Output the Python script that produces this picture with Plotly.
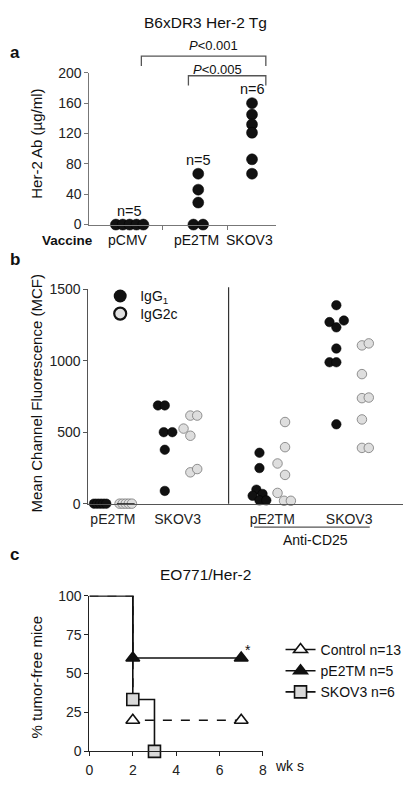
import plotly.graph_objects as go

# The page adds an 8px body margin; the plot is sized so that page == 417x786.
PAGE_W, PAGE_H = 417, 786
OFF = 8
W, H = PAGE_W - 2 * OFF, PAGE_H - 2 * OFF
FONT = "Liberation Sans, Arial, sans-serif"

# ---------------- Panel a data ----------------
a_categories = ["pCMV", "pE2TM", "SKOV3"]
a_values = [
    [0, 0, 0, 0, 0],                 # pCMV
    [67, 46, 29, 0, 0],              # pE2TM
    [160, 145, 132, 121, 86, 67],    # SKOV3
]
a_jitter = [
    [-2, -1, 0, 1, 2],
    [0, 0, 0, -0.7, 0.7],
    [0, 0, 0, 0, 0, 0],
]
a_n_labels = ["n=5", "n=5", "n=6"]
a_yticks = [0, 40, 80, 120, 160, 200]

# ---------------- Panel b data ----------------
b_groups = ["pE2TM", "SKOV3", "pE2TM", "SKOV3"]
b_igg1 = [
    [0, 0, 0, 0, 0],
    [687, 687, 500, 500, 377, 89],
    [356, 249, 98, 55, 68, 23, 23],
    [1388, 1270, 1281, 1233, 1085, 989, 989, 555],
]
b_igg2c = [
    [0, 0, 0, 0, 0],
    [616, 616, 525, 475, 219, 242],
    [571, 395, 281, 201, 75, 20, 20],
    [1107, 1121, 906, 738, 742, 589, 390, 390],
]
b_jit1 = [
    [-0.9, -0.45, 0, 0.45, 0.9],
    [-1, 0, -0.15, 1.1, 0, 0],
    [0, 0, -0.45, -1, 0.45, 0, 1],
    [0, -1, 1.1, 0, 0, -1, 0, 0],
]
b_jit2 = [
    [-0.9, -0.45, 0, 0.45, 0.9],
    [0, 1, -1, 0, 0, 1],
    [0, 0, -1.1, 0, -1.1, -0.15, 0.85],
    [0, 1, 0, 0, 1, 0, 0, 1],
]
b_yticks = [0, 500, 1000, 1500]

# ---------------- Panel c data ----------------
c_series = ["Control n=13", "pE2TM n=5", "SKOV3 n=6"]
c_weeks_control = [0, 2, 7]
c_control = [100, 20, 20]
c_weeks_pe2tm = [0, 2, 7]
c_pe2tm = [100, 60, 60]
c_weeks_skov3 = [0, 2, 3]
c_skov3 = [100, 33.3, 0]
c_xticks = [0, 2, 4, 6, 8]
c_yticks = [0, 25, 50, 75, 100]

# ---------------- layout constants ----------------
a_pos = [5.86, 15.86, 23.7]
a_sep = [10.7, 20.1]
b_pos = [3.58, 13.03, 26.87, 38.11]
b_half = 1.87


def px(x):
    return (x - OFF) / W


def py(y):
    return 1 - (y - OFF) / H


fig = go.Figure()

# Panel a dots
for i, vals in enumerate(a_values):
    fig.add_trace(go.Scatter(
        x=[a_pos[i] + j for j in a_jitter[i]], y=vals,
        mode="markers", xaxis="x", yaxis="y", cliponaxis=False,
        marker=dict(size=11, color="#111111", line=dict(width=0.5, color="#000")),
        showlegend=False, hoverinfo="skip"))

# Panel b dots
x1, y1, x2, y2 = [], [], [], []
for g in range(len(b_groups)):
    x1 += [b_pos[g] - b_half + j for j in b_jit1[g]]
    y1 += b_igg1[g]
    x2 += [b_pos[g] + b_half + j for j in b_jit2[g]]
    y2 += b_igg2c[g]
fig.add_trace(go.Scatter(x=x2, y=y2, mode="markers", xaxis="x2", yaxis="y2",
                         cliponaxis=False, showlegend=False, hoverinfo="skip",
                         marker=dict(size=9.5, color="#dedede", line=dict(width=0.8, color="#777"))))
fig.add_trace(go.Scatter(x=x1, y=y1, mode="markers", xaxis="x2", yaxis="y2",
                         cliponaxis=False, showlegend=False, hoverinfo="skip",
                         marker=dict(size=9.5, color="#111111", line=dict(width=0.5, color="#000"))))
# legend entries for panel b (one legend each for exact placement)
fig.add_trace(go.Scatter(x=[None], y=[None], mode="markers", name="IgG<sub>1</sub>",
                         xaxis="x2", yaxis="y2", legend="legend2",
                         marker=dict(size=13, color="#111111")))
fig.add_trace(go.Scatter(x=[None], y=[None], mode="markers", name="IgG2c",
                         xaxis="x2", yaxis="y2", legend="legend3",
                         marker=dict(size=12, color="#e0e0e0", line=dict(width=2.2, color="#111"))))

# Panel c step lines
c_styles = [
    dict(x=c_weeks_control, y=c_control, dash="dash", symbol="triangle-up", fill="white", size=12),
    dict(x=c_weeks_skov3, y=c_skov3, dash="solid", symbol="square", fill="#d9d9d9", size=12),
    dict(x=c_weeks_pe2tm, y=c_pe2tm, dash="solid", symbol="triangle-up", fill="#111111", size=12),
]
for s in c_styles:
    fig.add_trace(go.Scatter(
        x=s["x"], y=s["y"], mode="lines", line=dict(shape="hv", color="#111", width=1.6, dash=s["dash"]),
        xaxis="x3", yaxis="y3", showlegend=False, hoverinfo="skip"))
for s in c_styles:
    fig.add_trace(go.Scatter(
        x=s["x"][1:], y=s["y"][1:], mode="markers", cliponaxis=False,
        marker=dict(symbol=s["symbol"], size=s["size"], color=s["fill"], line=dict(width=1.6, color="#111")),
        xaxis="x3", yaxis="y3", showlegend=False, hoverinfo="skip"))
leg_styles = [("triangle-up", "white"), ("triangle-up", "#111111"), ("square", "#d9d9d9")]
for name, (sym, fill) in zip(c_series, leg_styles):
    fig.add_trace(go.Scatter(
        x=[None], y=[None], mode="lines+markers", name=name, xaxis="x3", yaxis="y3",
        line=dict(color="#111", width=1.6),
        marker=dict(symbol=sym, size=12, color=fill, line=dict(width=1.6, color="#111"))))

axis_common = dict(showgrid=False, zeroline=False, showline=True, fixedrange=True,
                   tickfont=dict(size=14, color="#222"), ticklen=4, tickwidth=1)

leg_common = dict(xanchor="left", yanchor="top", bgcolor="rgba(0,0,0,0)",
                  font=dict(size=14), tracegroupgap=0)

fig.update_layout(
    width=W, height=H, margin=dict(l=0, r=0, t=0, b=0), autosize=False,
    paper_bgcolor="white", plot_bgcolor="white",
    font=dict(family=FONT, color="#111", size=14),
    xaxis=dict(domain=[px(87), px(277)], range=[0, 190 / 7], tickvals=a_sep, ticks="outside",
               showticklabels=False, linecolor="#777", tickcolor="#777", anchor="y", **axis_common),
    yaxis=dict(domain=[py(221), py(66)], range=[0, 200], tickvals=a_yticks, ticks="outside",
               linecolor="#777", tickcolor="#777", anchor="x", **axis_common),
    xaxis2=dict(domain=[px(86), px(407)], range=[0, 321 / 6.98], tickvals=b_pos, ticktext=b_groups,
                ticks="", linecolor="#555", anchor="y2", ticklabelstandoff=3, **axis_common),
    yaxis2=dict(domain=[py(506), py(287)], range=[0, 1500], tickvals=b_yticks, ticks="outside",
                linecolor="#555", tickcolor="#555", anchor="x2", **axis_common),
    xaxis3=dict(domain=[px(87), px(264)], range=[0, 8], tickvals=c_xticks, ticks="outside",
                linecolor="#222", tickcolor="#222", anchor="y3", ticklabelstandoff=2, **axis_common),
    yaxis3=dict(domain=[py(759), py(600)], range=[0, 100], tickvals=c_yticks, ticks="outside",
                linecolor="#222", tickcolor="#222", anchor="x3", **axis_common),
    legend=dict(x=px(282), y=py(639), **leg_common),
    legend2=dict(x=px(98), y=py(278), **leg_common),
    legend3=dict(x=px(98), y=py(296), **leg_common),
)

ann = []


def note(text, x, y, xref="paper", yref="paper", size=14, **kw):
    d = dict(text=text, x=x, y=y, xref=xref, yref=yref, showarrow=False,
             xanchor="center", yanchor="middle", font=dict(size=size))
    d.update(kw)
    ann.append(d)


# panel letters
for letter, (lx, ly) in zip(["a", "b", "c"], [(11, 45), (11, 257), (11, 558)]):
    note("<b>%s</b>" % letter, px(lx), py(ly), size=17)
# titles
note("B6xDR3 Her-2 Tg", px(205), py(15), size=15.5)
note("EO771/Her-2", px(205), py(578), size=15.5)
# y titles
note("Her-2 Ab (µg/ml)", px(33), py(139), size=15, textangle=-90)
note("Mean Channel Fluorescence (MCF)", px(33), py(394), size=15, textangle=-90)
note("% tumor-free mice", px(33), py(683), size=15, textangle=-90)
# panel a labels
note("<b>Vaccine</b>", px(65), py(237), size=13.5)
for i, cat in enumerate(a_categories):
    note(cat, a_pos[i] - 0.3, py(237), xref="x", size=14)
    note(a_n_labels[i], a_pos[i], max(a_values[i]), xref="x", yref="y", size=14.5, yshift=14)
note("<i>P</i>&lt;0.001", (214 - 87) / 7, py(38), xref="x", size=13)
note("<i>P</i>&lt;0.005", (218 - 87) / 7, py(63), xref="x", size=13)
# panel b labels
note("Anti-CD25", (318 - 86) / 6.98, py(543), xref="x2", size=14)
# panel c labels
note("*", c_weeks_pe2tm[-1], c_pe2tm[-1], xref="x3", yref="y3", size=14, xshift=7, yshift=8)
note("wk s", px(274), py(774), size=14, xanchor="left")
fig.update_layout(annotations=ann)

shapes = []
# significance brackets (panel a)
for (bx0, bx1, top, bot) in [(140, 267, 49, 59), (188, 267, 69, 79)]:
    X0, X1 = (bx0 - 87) / 7, (bx1 - 87) / 7
    shapes.append(dict(type="path", xref="x", yref="paper",
                       path="M %f,%f L %f,%f L %f,%f L %f,%f" % (X0, py(bot), X0, py(top), X1, py(top), X1, py(bot)),
                       line=dict(color="#555", width=1.3)))
# divider in panel b
shapes.append(dict(type="line", xref="x2", yref="paper", x0=(229 - 86) / 6.98, x1=(229 - 86) / 6.98,
                   y0=py(506), y1=py(285), line=dict(color="#333", width=1.2)))
# Anti-CD25 underline
shapes.append(dict(type="line", xref="x2", yref="paper", x0=(255 - 86) / 6.98, x1=(373 - 86) / 6.98,
                   y0=py(530), y1=py(530), line=dict(color="#555", width=1.3)))
# median bar of left IgG2c group
shapes.append(dict(type="line", xref="x2", yref="y2", x0=b_pos[0] + b_half - 1.3, x1=b_pos[0] + b_half + 1.3,
                   y0=0, y1=0, line=dict(color="#111", width=1.5)))
fig.update_layout(shapes=shapes)

fig.write_html("out.html", config={"displayModeBar": False})
